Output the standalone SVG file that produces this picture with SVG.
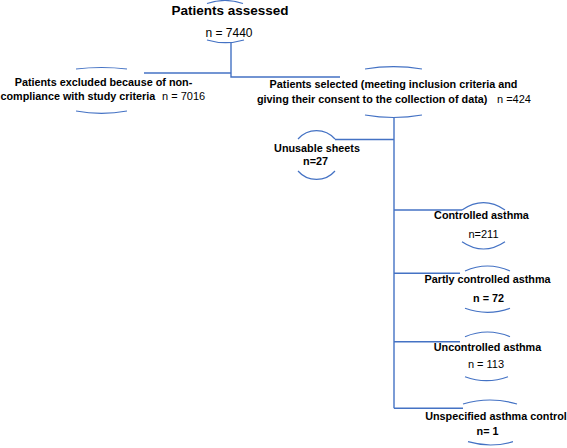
<svg xmlns="http://www.w3.org/2000/svg" width="567" height="448" viewBox="0 0 567 448">
<style>
  text { font-family: "Liberation Sans", Arial, sans-serif; fill: #000; }
  .b { font-weight: bold; font-size: 10.8px; }
  .r { font-weight: normal; font-size: 11px; }
  .t { font-weight: bold; font-size: 13.5px; }
  .arc { fill: none; stroke: #4472C4; stroke-width: 1.2; }
  .ln { fill: none; stroke: #4472C4; stroke-width: 1.4; }
</style>
<rect width="567" height="448" fill="#fff"/>

<g id="connectors">
  <path class="ln" d="M231,42.5 V77 H340"/>
  <path class="ln" d="M231,73 H144"/>
  <path class="ln" d="M394,117.5 V408.3"/>
  <path class="ln" d="M394,139.5 H335"/>
  <path class="ln" d="M394,210 H462"/>
  <path class="ln" d="M394,273.3 H460"/>
  <path class="ln" d="M394,341.7 H460"/>
  <path class="ln" d="M394,408.3 H463"/>
</g>

<g id="node-assessed">
  <path class="arc" d="M207,3.5 Q225,-2.5 243,3.5"/>
  <text class="t" x="230" y="15" text-anchor="middle">Patients assessed</text>
  <text class="r" x="229" y="36.5" text-anchor="middle" style="font-size:12px">n = 7440</text>
  <path class="arc" d="M207,40 Q225.5,45.4 244,40"/>
</g>

<g id="node-excluded">
  <path class="arc" d="M76,69 Q101.5,66 127,69"/>
  <text class="b" x="103.5" y="86" text-anchor="middle">Patients excluded because of non-</text>
  <text x="0.5" y="100"><tspan class="b">compliance with study criteria</tspan><tspan class="r" x="162">n = 7016</tspan></text>
  <path class="arc" d="M76,111 Q101.5,115.6 127,111"/>
</g>

<g id="node-selected">
  <path class="arc" d="M365,69 Q393.5,64.4 422,69"/>
  <text class="b" x="393.5" y="88" text-anchor="middle">Patients selected (meeting inclusion criteria and</text>
  <text x="257" y="102.5"><tspan class="b">giving their consent to the collection of data)</tspan><tspan class="r" x="497">n =424</tspan></text>
  <path class="arc" d="M365,115 Q393.5,120 422,115"/>
</g>

<g id="node-unusable">
  <path class="arc" d="M298,139 A24.5,24.5 0 0 1 335,139"/>
  <text class="b" x="317" y="152" text-anchor="middle">Unusable sheets</text>
  <text class="b" x="315.5" y="165" text-anchor="middle">n=27</text>
  <path class="arc" d="M298,171 A24.5,24.5 0 0 0 335,171"/>
</g>

<g id="node-controlled">
  <path class="arc" d="M462,210 Q483.5,195.4 505,210"/>
  <text class="b" x="481.5" y="219" text-anchor="middle">Controlled asthma</text>
  <text class="r" x="483.5" y="237.5" text-anchor="middle">n=211</text>
  <path class="arc" d="M462,241.7 Q483.5,256.3 505,241.7"/>
</g>

<g id="node-partly">
  <path class="arc" d="M465,271 Q487.5,261 510,271"/>
  <text class="b" x="487.5" y="282.7" text-anchor="middle">Partly controlled asthma</text>
  <text class="b" x="488.5" y="301.7" text-anchor="middle">n = 72</text>
  <path class="arc" d="M465,308.3 Q487.5,316.3 510,308.3"/>
</g>

<g id="node-uncontrolled">
  <path class="arc" d="M465,336.7 Q487.5,327.3 510,336.7"/>
  <text class="b" x="487.5" y="350.7" text-anchor="middle">Uncontrolled asthma</text>
  <text class="r" x="486" y="368.3" text-anchor="middle">n = 113</text>
  <path class="arc" d="M465,376.7 Q486.5,384.7 508,376.7"/>
</g>

<g id="node-unspecified">
  <path class="arc" d="M463,404 Q490,396 517,404"/>
  <text class="b" x="496" y="420" text-anchor="middle">Unspecified asthma control</text>
  <text class="b" x="487.5" y="435" text-anchor="middle">n= 1</text>
  <path class="arc" d="M468,441.7 Q490.5,448.3 513,441.7"/>
</g>
</svg>
